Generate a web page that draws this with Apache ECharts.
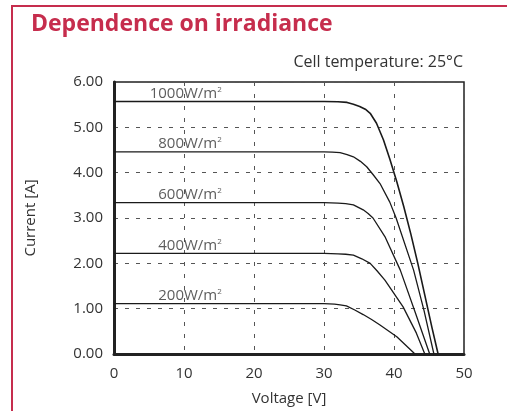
<!DOCTYPE html>
<html>
<head>
<meta charset="utf-8">
<script src="https://cdn.jsdelivr.net/npm/echarts@6/dist/echarts.min.js"></script>
<style>
  html, body { margin: 0; padding: 0; background: #fff; }
  #chart-container { width: 507px; height: 411px; }
</style>
</head>
<body>
<div id="chart-container"></div>
<script>
// I-V curves: [voltage V, current A]
var curve200 = [[0, 1.11], [30, 1.11], [31.5, 1.10], [32.3, 1.085], [33.2, 1.06], [34.4, 0.97], [35.6, 0.87], [36.8, 0.76], [38, 0.64], [40.4, 0.38], [43, 0]];
var curve400 = [[0, 2.22], [30, 2.22], [32, 2.21], [33.1, 2.20], [34.2, 2.18], [35.4, 2.10], [36.6, 2.0], [37.6, 1.83], [38.7, 1.63], [41.3, 1.04], [43.2, 0.46], [44.4, 0]];
var curve600 = [[0, 3.34], [30, 3.34], [32, 3.33], [33.1, 3.315], [34.2, 3.29], [35.6, 3.18], [36.3, 3.10], [37, 3.0], [38.7, 2.59], [40.9, 1.85], [43, 0.93], [45.1, 0]];
var curve800 = [[0, 4.46], [30, 4.46], [31.2, 4.455], [32.3, 4.44], [33.3, 4.40], [34.2, 4.35], [35.2, 4.25], [36.1, 4.13], [37, 3.96], [38, 3.76], [39.4, 3.35], [40.3, 3.0], [42.8, 1.85], [44.3, 0.95], [45.7, 0]];
var curve1000 = [[0, 5.57], [30, 5.57], [32, 5.565], [33.3, 5.55], [34.2, 5.51], [35.1, 5.46], [35.9, 5.40], [36.6, 5.31], [37.5, 5.09], [38.5, 4.72], [39.4, 4.30], [40.4, 3.80], [41.4, 3.25], [42.4, 2.65], [43.4, 2.0], [44.4, 1.3], [45.4, 0.6], [46.3, 0]];

var irradiance = ["200", "400", "600", "800", "1000"];
var curves = [curve200, curve400, curve600, curve800, curve1000];
var labelVoltage = 15.4; // labels end here, sitting on the flat part

var xMin = 0, xMax = 50, xStep = 10;
var yMin = 0, yMax = 6, yStep = 1;

var dom = document.getElementById("chart-container");
var myChart = echarts.init(dom, null, { renderer: "canvas" });

var font = "'Open Sans', 'Liberation Sans', sans-serif";
var crimson = "#c62d4d";
var ink = "#333";

var series = curves.map(function (c, i) {
  return {
    name: irradiance[i],
    type: "line",
    data: c,
    showSymbol: false,
    smooth: false,
    lineStyle: { color: "#1a1a1a", width: i == 4 ? 1.6 : 1.3, join: "round" },
    silent: true,
    z: 3
  };
});

// irradiance labels
var labelData = curves.map(function (c, i) {
  return [labelVoltage, c[0][1], irradiance[i]];
});
series.push({
  type: "scatter",
  data: labelData,
  symbolSize: 0,
  silent: true,
  label: {
    show: true,
    position: [0, 0],
    align: "right",
    verticalAlign: "bottom",
    offset: [0, 0],
    formatter: function (p) { return "{a|" + p.data[2] + "W/m}{s|2}"; },
    rich: {
      a: { fontFamily: font, fontSize: 15, color: ink, lineHeight: 16 },
      s: { fontFamily: font, fontSize: 8, color: ink, verticalAlign: "top", lineHeight: 16 }
    }
  },
  z: 4
});

var option = {
  animation: false,
  title: {
    text: "Dependence on irradiance",
    left: 31,
    top: 13,
    padding: 0,
    textStyle: { fontFamily: font, fontSize: 23, fontWeight: "bold", color: crimson }
  },
  graphic: [
    {
      type: "rect",
      shape: { x: 12, y: 6, width: 600, height: 500 },
      style: { fill: null, stroke: crimson, lineWidth: 2 },
      silent: true
    },
    {
      type: "text",
      right: 44,
      top: 54,
      style: { text: "Cell temperature: 25°C", fontFamily: font, fontSize: 16, fill: ink }
    }
  ],
  grid: {
    left: 114, right: 43, top: 82, bottom: 57,
    show: true, borderColor: "#222", borderWidth: 1.5, backgroundColor: "transparent"
  },
  xAxis: {
    type: "value",
    min: xMin, max: xMax, interval: xStep,
    name: "Voltage [V]",
    nameLocation: "middle",
    nameGap: 37,
    nameTextStyle: { fontFamily: font, fontSize: 15, color: ink },
    axisLine: { lineStyle: { color: "#222", width: 3 } },
    axisTick: { show: false },
    axisLabel: { fontFamily: font, fontSize: 15, color: ink, margin: 12 },
    splitLine: { lineStyle: { color: "#555", width: 1, type: [4, 8] } }
  },
  yAxis: {
    type: "value",
    min: yMin, max: yMax, interval: yStep,
    name: "Current [A]",
    nameLocation: "middle",
    nameRotate: 90,
    nameGap: 76,
    nameTextStyle: { fontFamily: font, fontSize: 15, color: ink },
    axisLine: { show: true, lineStyle: { color: "#222", width: 3 } },
    axisTick: { show: false },
    axisLabel: {
      fontFamily: font, fontSize: 15, color: ink, margin: 11,
      formatter: function (v) { return v.toFixed(2); }
    },
    splitLine: { lineStyle: { color: "#555", width: 1, type: [4, 7] } }
  },
  series: series
};

myChart.setOption(option);
window.addEventListener("resize", myChart.resize);
</script>
</body>
</html>
